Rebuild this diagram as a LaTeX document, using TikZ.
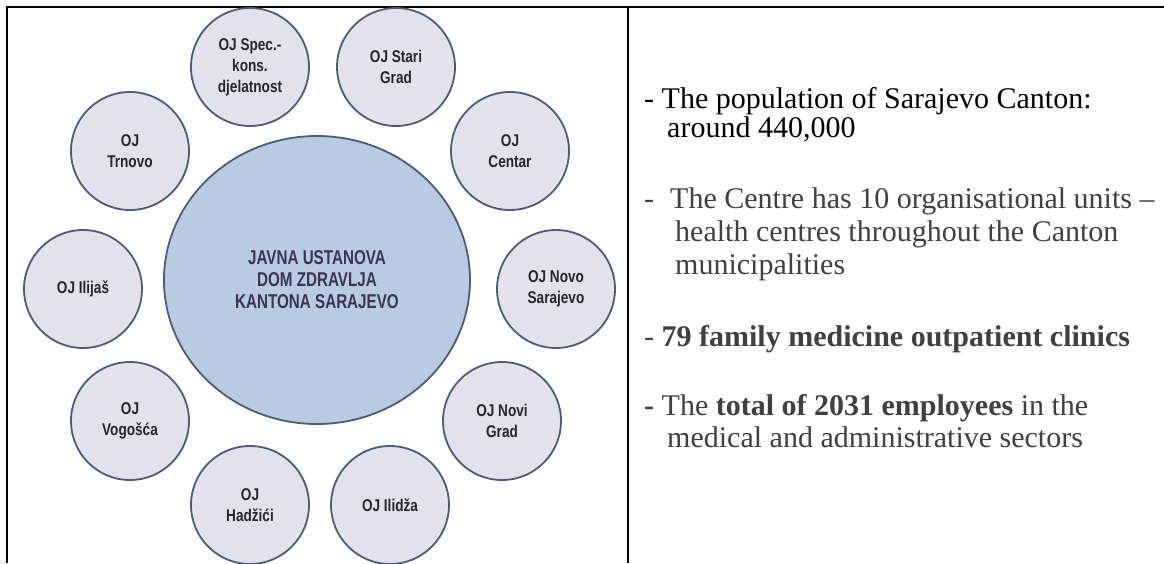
\documentclass[tikz,border=0pt]{standalone}
\usepackage{fontspec}
\setmainfont{Liberation Serif}
\newfontfamily\ojfont[FakeStretch=0.8]{Liberation Sans}
\newfontfamily\jufont[FakeStretch=0.76]{Liberation Sans}
\usepackage{tikz}
\usetikzlibrary{shapes.geometric}

\definecolor{ojfill}{HTML}{E3E1EC}
\definecolor{ojline}{HTML}{4B5B78}
\definecolor{jufill}{HTML}{B7CCE3}
\definecolor{ojtext}{HTML}{26262F}
\definecolor{jutext}{HTML}{3A3650}
\definecolor{notegray}{HTML}{404040}

\begin{document}
\begin{tikzpicture}[x=1pt,y=-1pt,
  unit/.style={draw=ojline,line width=1.8pt,fill=ojfill,shape=circle,minimum size=118pt,
    inner sep=0pt,align=center,text=ojtext,font=\ojfont\bfseries\fontsize{17}{21}\selectfont},
  note/.style={anchor=base west,inner sep=0pt,font=\fontsize{30}{32}\selectfont}]
\useasboundingbox (0,0) rectangle (1164,563);

% frame of the table
\draw[line width=2.4pt] (7,563) -- (7,7) -- (1164,7);
\draw[line width=2.4pt] (628,7) -- (628,563);

% the centre and its organisational units
\node (centre) [draw=ojline,line width=1.8pt,fill=jufill,shape=ellipse,minimum width=306pt,minimum height=288pt,
  align=center,text=jutext,font=\jufont\bfseries\fontsize{20}{22}\selectfont] at (317,280)
  {JAVNA USTANOVA\\DOM ZDRAVLJA\\KANTONA SARAJEVO};

\node (spec) [unit] at (250,67) {OJ Spec.-\\kons.\\djelatnost};
\node (starigrad) [unit] at (396,67) {OJ Stari\\Grad};
\node (centar) [unit] at (510,151) {OJ\\Centar};
\node (novosarajevo) [unit] at (556,289) {OJ Novo\\Sarajevo};
\node (novigrad) [unit] at (502,421) {OJ Novi\\Grad};
\node (ilidza) [unit] at (390,505) {OJ Ilidža};
\node (hadzici) [unit] at (250,505) {OJ\\Hadžići};
\node (vogosca) [unit] at (130,421) {OJ\\Vogošća};
\node (ilijas) [unit] at (83,289) {OJ Ilijaš};
\node (trnovo) [unit] at (130,151) {OJ\\Trnovo};

% notes on the right
\node (popA) [note] at (644,108) {- The population of Sarajevo Canton:};
\node (popB) [note] at (667,137) {around 440,000};
\node (unitsA) [note,text=notegray] at (644,208) {-\hspace{16pt}The Centre has 10 organisational units –};
\node (unitsB) [note,text=notegray] at (675,241) {health centres throughout the Canton};
\node (unitsC) [note,text=notegray] at (675,274) {municipalities};
\node (clinics) [note,text=notegray] at (644,346) {- \textbf{79 family medicine outpatient clinics}};
\node (staffA) [note,text=notegray] at (644,415) {\textbf{-} The \textbf{total of 2031 employees} in the};
\node (staffB) [note,text=notegray] at (667,447) {medical and administrative sectors};

\end{tikzpicture}
\end{document}
